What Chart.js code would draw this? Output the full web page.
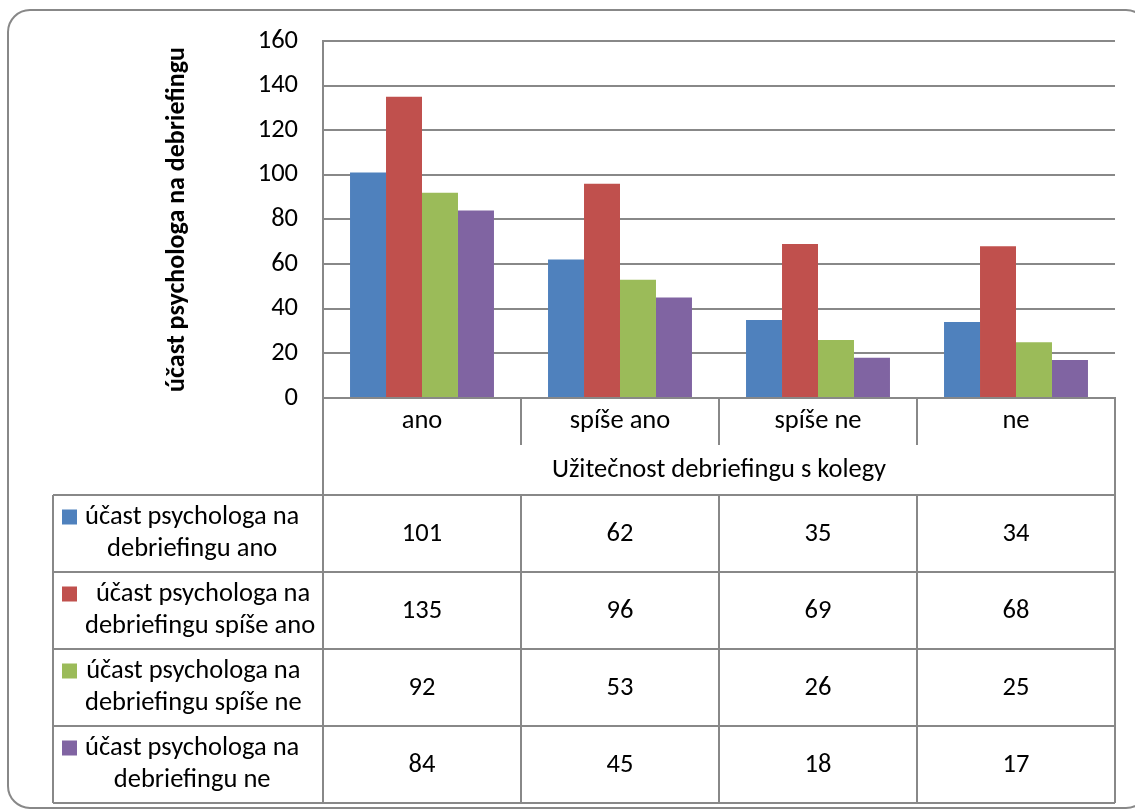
<!DOCTYPE html>
<html>
<head>
<meta charset="utf-8">
<script src="https://cdn.jsdelivr.net/npm/chart.js@4.4.1/dist/chart.umd.min.js"></script>
<style>
  html, body { margin: 0; padding: 0; background: #fff; }
  #wrap { width: 1135px; height: 810px; }
</style>
</head>
<body>
<div id="wrap"><canvas id="c" width="1135" height="810"></canvas></div>
<script>
// Usefulness of debriefing with colleagues, split by psychologist participation
const categories = ['ano', 'spíše ano', 'spíše ne', 'ne'];
const seriesLines = [
  ['účast psychologa na', 'debriefingu ano'],
  [' účast psychologa na', 'debriefingu spíše ano'],
  ['účast psychologa na', 'debriefingu spíše ne'],
  ['účast psychologa na', 'debriefingu ne']
];
const seriesAno = [101, 62, 35, 34];
const seriesSpiseAno = [135, 96, 69, 68];
const seriesSpiseNe = [92, 53, 26, 25];
const seriesNe = [84, 45, 18, 17];
const seriesColors = ['#4F81BD', '#C0504D', '#9BBB59', '#8064A2'];
const yMin = 0, yMax = 160, yStep = 20;
const xTitle = 'Užitečnost debriefingu s kolegy';
const yTitle = 'účast psychologa na debriefingu';

const FAMILY = 'Carlito, Lato, sans-serif';
const SIZE = 26.5;
const LINE = '#888888';

const allSeries = [seriesAno, seriesSpiseAno, seriesSpiseNe, seriesNe];

// Rounded outer frame and white background
const framePlugin = {
  id: 'frame',
  beforeDraw(chart) {
    const ctx = chart.ctx;
    ctx.save();
    ctx.fillStyle = '#fff';
    ctx.fillRect(0, 0, chart.width, chart.height);
    ctx.strokeStyle = LINE;
    ctx.lineWidth = 2;
    ctx.beginPath();
    ctx.roundRect(8, 10, 1140, 798, 22);
    ctx.stroke();
    ctx.restore();
  }
};

// Data table under the category axis
const tablePlugin = {
  id: 'dataTable',
  afterDraw(chart) {
    const ctx = chart.ctx;
    const a = chart.chartArea;
    const xs = chart.scales.x;
    const n = categories.length;
    const colW = (a.right - a.left) / n;
    const tableTop = xs.bottom;
    const rowH = 77;
    const tableLeft = 53;
    const catRowBottom = a.bottom + 47;
    const tableBottom = tableTop + rowH * allSeries.length;

    ctx.save();
    ctx.strokeStyle = LINE;
    ctx.lineWidth = 2;
    ctx.beginPath();
    // category divider row
    for (let i = 1; i < n; i++) {
      const x = Math.round(a.left + i * colW);
      ctx.moveTo(x, a.bottom); ctx.lineTo(x, catRowBottom);
    }
    // outer verticals of the category/title rows
    ctx.moveTo(a.left, a.bottom); ctx.lineTo(a.left, tableBottom);
    ctx.moveTo(a.right, a.bottom); ctx.lineTo(a.right, tableBottom);
    // table horizontals
    for (let r = 0; r <= allSeries.length; r++) {
      const y = tableTop + r * rowH;
      ctx.moveTo(tableLeft, y); ctx.lineTo(a.right, y);
    }
    // table verticals
    ctx.moveTo(tableLeft, tableTop); ctx.lineTo(tableLeft, tableBottom);
    for (let i = 1; i < n; i++) {
      const x = Math.round(a.left + i * colW);
      ctx.moveTo(x, tableTop); ctx.lineTo(x, tableBottom);
    }
    ctx.stroke();

    ctx.font = SIZE + 'px ' + FAMILY;
    ctx.fillStyle = '#000';
    ctx.textBaseline = 'middle';
    ctx.textAlign = 'center';
    allSeries.forEach((vals, r) => {
      const cy = tableTop + r * rowH + rowH / 2;
      vals.forEach((v, i) => {
        ctx.fillText(String(v), xs.getPixelForValue(i), cy + 1);
      });
      // legend key and series name
      const lines = seriesLines[r];
      const blockW = Math.max(...lines.map(t => ctx.measureText(t).width));
      const textLeft = 85;
      const lineGap = 32;
      const y1 = cy - lineGap / 2;
      ctx.fillStyle = seriesColors[r];
      ctx.fillRect(62, y1 - 8, 15, 15);
      ctx.fillStyle = '#000';
      lines.forEach((t, k) => {
        ctx.fillText(t, textLeft + blockW / 2, y1 + k * lineGap);
      });
    });
    ctx.restore();
  }
};

new Chart(document.getElementById('c'), {
  type: 'bar',
  data: {
    labels: categories,
    datasets: allSeries.map((vals, i) => ({
      label: seriesLines[i].join(' ').trim(),
      data: vals,
      backgroundColor: seriesColors[i],
      borderWidth: 0,
      categoryPercentage: 0.727,
      barPercentage: 1.0
    }))
  },
  options: {
    responsive: false,
    animation: false,
    devicePixelRatio: 1,
    layout: { padding: { left: 160, right: 20, top: 40, bottom: 315 } },
    plugins: {
      legend: { display: false },
      tooltip: { enabled: false }
    },
    scales: {
      x: {
        grid: { display: false, drawTicks: false },
        border: { display: true, color: LINE, width: 2 },
        ticks: { color: '#000', font: { family: FAMILY, size: SIZE }, padding: 7, maxRotation: 0 },
        title: { display: true, text: xTitle, color: '#000', font: { family: FAMILY, size: SIZE }, padding: { top: 0, bottom: 9 } },
        afterFit(s) { s.height = 97; }
      },
      y: {
        min: yMin, max: yMax,
        grid: { color: LINE, lineWidth: 2, drawTicks: false },
        border: { display: true, color: LINE, width: 2 },
        ticks: { stepSize: yStep, color: '#000', font: { family: FAMILY, size: SIZE }, padding: 25 },
        title: { display: true, text: yTitle, color: '#000', font: { family: FAMILY, size: 26, weight: 'bold' }, padding: { top: 2, bottom: 0 } },
        afterFit(s) { s.width = 163; }
      }
    }
  },
  plugins: [framePlugin, tablePlugin]
});
</script>
</body>
</html>
